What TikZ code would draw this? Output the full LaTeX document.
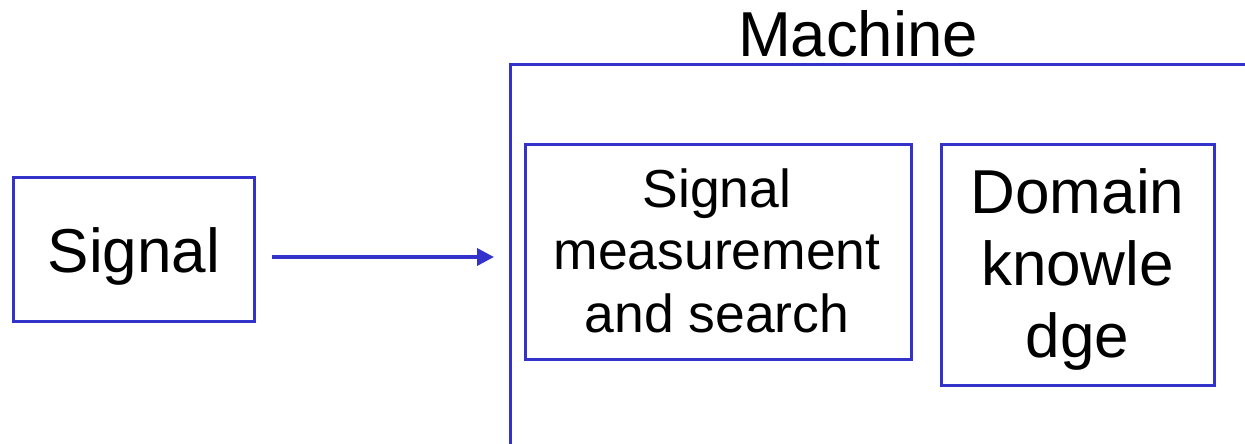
\documentclass[tikz,border=0pt]{standalone}
\usepackage{fontspec}
\setmainfont{Liberation Sans}
\usetikzlibrary{arrows.meta}
\definecolor{frameblue}{RGB}{51,51,204}
\tikzset{
  box/.style={draw=frameblue, line width=3pt, inner sep=0pt, fill=white},
  bigtext/.style={font=\fontsize{62}{72}\selectfont, align=center, anchor=base, inner sep=0pt},
  titletext/.style={font=\fontsize{63.5}{72}\selectfont, anchor=base, inner sep=0pt},
  midtext/.style={font=\fontsize{53.5}{62.5}\selectfont, align=center, anchor=base, inner sep=0pt},
  flow/.style={draw=frameblue, line width=3.5pt, -{Triangle[length=17pt,width=17pt]}}
}
\begin{document}
\begin{tikzpicture}[x=1pt, y=-1pt]
  \useasboundingbox (0,0) rectangle (1245,444);
  \clip (0,0) rectangle (1245,444);

  % machine frame, open to the right and to the bottom
  \coordinate (mtl) at (510,65);
  \coordinate (mtr) at (1260,65);
  \coordinate (mbl) at (510,460);
  \draw[frameblue, line width=3pt] (mtr) -- (mtl) -- (mbl);
  \node[titletext] (mlabel) at (858,57) {Machine};

  % input block
  \node[box, minimum width=241pt, minimum height=144pt] (sig) at (133.5,249) {};
  \node[bigtext] (sigtext) at (134,272) {Signal};

  % blocks inside the machine (base anchor sits on the last line)
  \node[box, minimum width=386pt, minimum height=215pt] (meas) at (718,252) {};
  \node[midtext] (meastext) at (717,332) {Signal\\measurement\\and search};

  \node[box, minimum width=273pt, minimum height=241pt] (dom) at (1077.5,265) {};
  \node[bigtext] (domtext) at (1077.5,357) {Domain\\knowle\\dge};

  % signal enters the machine
  \coordinate (entry) at (510,257);
  \draw[flow, shorten <=16pt, shorten >=16pt] (sig.east |- entry) -- (entry);
\end{tikzpicture}
\end{document}
